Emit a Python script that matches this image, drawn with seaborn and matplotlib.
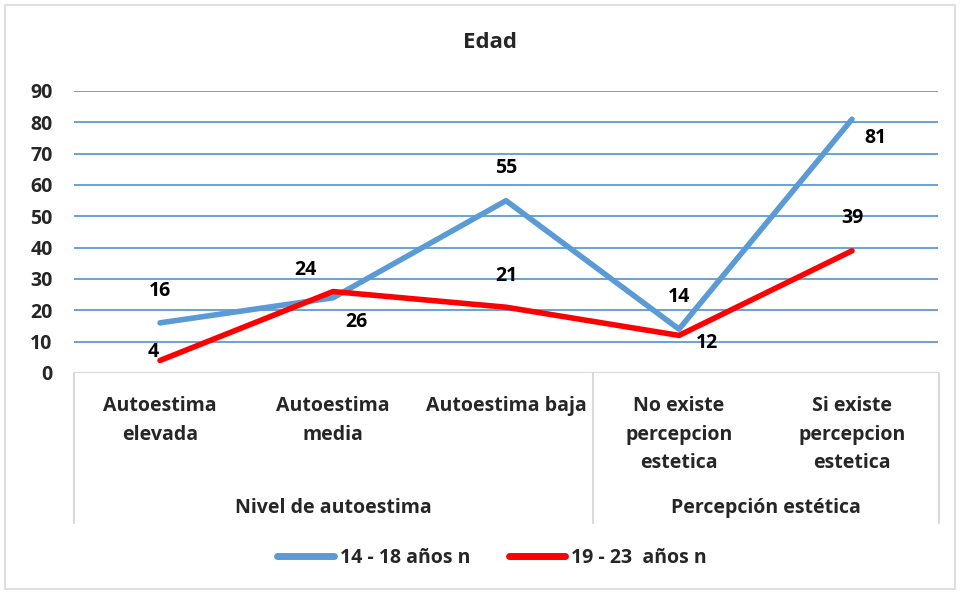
import numpy as np
import pandas as pd
import matplotlib
matplotlib.use("Agg")
import matplotlib.pyplot as plt
from matplotlib.patches import Rectangle
import seaborn as sns

sns.set_theme(style="white")
plt.rcParams['font.family'] = ['Open Sans', 'DejaVu Sans']
plt.rcParams['font.weight'] = 'bold'

categorias = ["Autoestima\nelevada", "Autoestima\nmedia", "Autoestima baja",
              "No existe\npercepcion\nestetica", "Si existe\npercepcion\nestetica"]
grupos = ["Nivel de autoestima", "Percepción estética"]
grupo_tam = [3, 2]
series = ["14 - 18 años n", "19 - 23  años n"]
v_14_18 = [16, 24, 55, 14, 81]
v_19_23 = [4, 26, 21, 12, 39]
colores = ["#5B9BD5", "#FF0000"]

# posiciones de las etiquetas (pixeles respecto al punto)
off_14_18 = [(0, 32), (-28, 28), (0, 33), (0, 32), (23, -19)]
off_19_23 = [(-7, 8), (23, -30), (0, 31), (28, -8), (0, 33)]

df = pd.DataFrame({
    "pos": list(range(len(categorias))) * 2,
    "valor": v_14_18 + v_19_23,
    "serie": [series[0]] * len(categorias) + [series[1]] * len(categorias),
})

FS = 14
fig = plt.figure(figsize=(9.61, 5.93), dpi=100)
W, H = 961, 593
ax = fig.add_axes([73.5 / W, (H - 373) / H, (938.5 - 73.5) / W, (373 - 91) / H])

sns.lineplot(data=df, x="pos", y="valor", hue="serie", palette=colores,
             linewidth=4, ax=ax, legend=True, solid_capstyle="round")

ax.set_xlim(-0.5, len(categorias) - 0.5)
ax.set_ylim(0, 90)
ax.set_yticks(np.arange(0, 91, 10))
ax.set_xticks([])
ax.set_xlabel("")
ax.set_ylabel("")
for s in ax.spines.values():
    s.set_visible(False)
ax.yaxis.grid(True, color="#5B9BD5", linewidth=1.3)
ax.set_axisbelow(True)
ax.tick_params(axis="y", length=0, pad=15, labelsize=FS)
for t in ax.get_yticklabels():
    t.set_fontweight("bold")
ax.axhline(0, color="#D9D9D9", linewidth=1.5, zorder=1)

# etiquetas de datos
for vals, offs in [(v_14_18, off_14_18), (v_19_23, off_19_23)]:
    for i, (v, o) in enumerate(zip(vals, offs)):
        ax.annotate(str(v), (i, v), xytext=o, textcoords="offset pixels",
                    ha="center", va="center", fontsize=FS, fontweight="bold",
                    color="black")

# eje de categorias en dos niveles
box_depth = (523 - 373) / (373 - 91)
tr = ax.get_xaxis_transform()
bordes = [-0.5]
for n in grupo_tam:
    bordes.append(bordes[-1] + n)
for b in bordes:
    ax.plot([b, b], [0, -box_depth], transform=tr, color="#D9D9D9",
            linewidth=1.5, clip_on=False)
for i, c in enumerate(categorias):
    ax.text(i, -(396 - 373) / (373 - 91), c, transform=tr, ha="center", va="top",
            fontsize=FS, fontweight="bold", linespacing=1.58)
for g, a, b in zip(grupos, bordes[:-1], bordes[1:]):
    ax.text((a + b) / 2, -(508 - 373) / (373 - 91), g, transform=tr,
            ha="center", va="center", fontsize=FS, fontweight="bold")

fig.text(490 / W, 1 - 43 / H, "Edad", ha="center", va="center",
         fontsize=16, fontweight="bold")

h, l = ax.get_legend_handles_labels()
ax.legend_.remove()
for hh in h:
    hh.set_linewidth(5)
fig.legend(h, l, loc="center", bbox_to_anchor=(492 / W, 1 - 558 / H), ncol=2,
           frameon=False, handlelength=2.9, columnspacing=2.0,
           handletextpad=0.3, prop={"weight": "bold", "size": FS})

fig.patches.append(Rectangle((5 / W, 4 / H), 950 / W, 584 / H, transform=fig.transFigure,
                             fill=False, edgecolor="#D9D9D9", linewidth=1.2))

fig.savefig("out.png", dpi=100)
